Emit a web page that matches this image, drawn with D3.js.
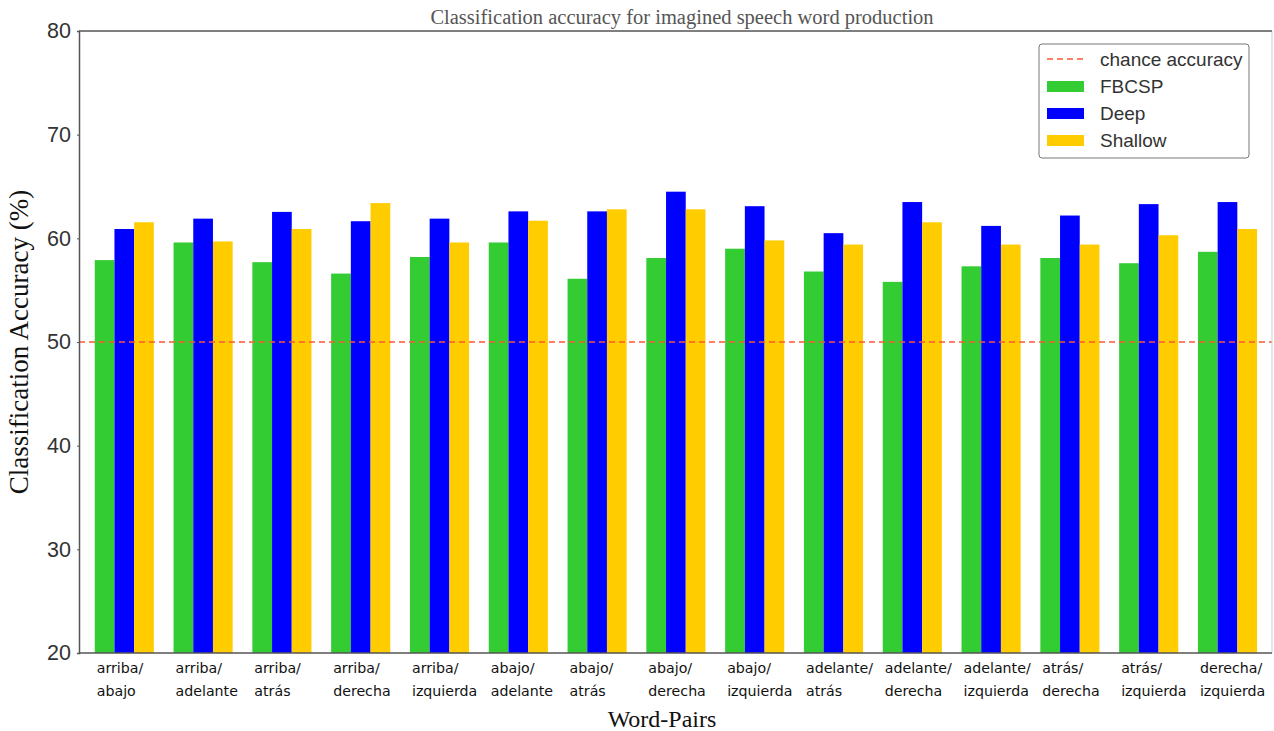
<!DOCTYPE html>
<html>
<head>
<meta charset="utf-8">
<script src="https://cdn.jsdelivr.net/npm/d3@7"></script>
<style>
body { margin: 0; background: #fff; }
</style>
</head>
<body>
<script>
// word pairs (two lines each)
var pairs = [
    ["arriba/", "abajo"], ["arriba/", "adelante"], ["arriba/", "atrás"], ["arriba/", "derecha"],
    ["arriba/", "izquierda"], ["abajo/", "adelante"], ["abajo/", "atrás"], ["abajo/", "derecha"],
    ["abajo/", "izquierda"], ["adelante/", "atrás"], ["adelante/", "derecha"], ["adelante/", "izquierda"],
    ["atrás/", "derecha"], ["atrás/", "izquierda"], ["derecha/", "izquierda"]
]
var series = ["FBCSP", "Deep", "Shallow"]
var fbcsp   = [57.9, 59.6, 57.7, 56.6, 58.2, 59.6, 56.1, 58.1, 59.0, 56.8, 55.8, 57.3, 58.1, 57.6, 58.7]
var deep    = [60.9, 61.9, 62.55, 61.65, 61.9, 62.6, 62.6, 64.5, 63.1, 60.5, 63.5, 61.2, 62.2, 63.3, 63.5]
var shallow = [61.55, 59.7, 60.9, 63.4, 59.6, 61.7, 62.8, 62.8, 59.8, 59.4, 61.55, 59.4, 59.4, 60.3, 60.9]
var chance = 50
var yTicks = [20, 30, 40, 50, 60, 70, 80]
var colors = ["#33cc33", "#0000ff", "#ffcc00"]

var W = 1274, H = 731
var margin = {top: 31, right: 2, bottom: 78, left: 79}
var width = W - margin.left - margin.right
var height = H - margin.top - margin.bottom

var svg = d3.select("body").append("svg").attr("width", W).attr("height", H)
var main = svg.append("g").attr("transform", "translate(" + margin.left + "," + margin.top + ")")

// scales
var x = d3.scaleLinear().domain([-0.2, pairs.length - 0.06]).range([0, width])
var y = d3.scaleLinear().domain([20, 80]).range([height, 0])
var bw = x(0.25) - x(0)

// bars
var all = [fbcsp, deep, shallow]
all.forEach(function(vals, s) {
    main.append("g").selectAll("rect").data(vals).enter().append("rect")
        .attr("x", function(d, i) { return x(i + s * 0.25) })
        .attr("y", function(d) { return y(d) })
        .attr("width", bw)
        .attr("height", function(d) { return height - y(d) })
        .attr("fill", colors[s])
})

// chance line
main.append("line")
    .attr("x1", 0).attr("x2", width)
    .attr("y1", y(chance)).attr("y2", y(chance))
    .attr("stroke", "#ff5533").attr("stroke-width", 1.6)
    .attr("stroke-dasharray", "6,4")

// frame
main.append("line").attr("x1", width).attr("x2", width).attr("y1", 0).attr("y2", height)
    .attr("stroke", "#cccccc").attr("stroke-width", 1)
main.append("line").attr("x1", 0).attr("x2", width).attr("y1", 0).attr("y2", 0)
    .attr("stroke", "#555").attr("stroke-width", 1.5)

// y axis
var yAxis = d3.axisLeft(y).tickValues(yTicks).tickSize(2).tickPadding(6)
var gy = main.append("g").call(yAxis)
gy.select(".domain").attr("stroke", "#555").attr("stroke-width", 1.5)
gy.selectAll(".tick line").attr("stroke", "#555")
gy.selectAll("text").attr("font-family", "Liberation Sans, Arial, sans-serif")
    .attr("font-size", 21.5).attr("fill", "#333")

// x axis
main.append("line").attr("x1", 0).attr("x2", width).attr("y1", height).attr("y2", height)
    .attr("stroke", "#555").attr("stroke-width", 1.5)
var xl = main.append("g").selectAll("text").data(pairs).enter().append("text")
    .attr("x", function(d, i) { return x(i) + 2 })
    .attr("y", height + 20)
    .attr("font-family", "DejaVu Sans, sans-serif")
    .attr("font-size", 14.2).attr("fill", "#111")
xl.each(function(d) {
    var t = d3.select(this)
    t.append("tspan").attr("x", t.attr("x")).text(d[0])
    t.append("tspan").attr("x", t.attr("x")).attr("dy", 23).text(d[1])
})

// labels
svg.append("text").attr("x", 682).attr("y", 24).attr("text-anchor", "middle")
    .attr("font-family", "Liberation Serif, Times New Roman, serif").attr("font-size", 20.5)
    .attr("fill", "#555").text("Classification accuracy for imagined speech word production")
svg.append("text").attr("x", 662).attr("y", 727).attr("text-anchor", "middle")
    .attr("font-family", "Liberation Serif, Times New Roman, serif").attr("font-size", 24)
    .attr("fill", "#111").text("Word-Pairs")
svg.append("text").attr("transform", "translate(28," + 342 + ") rotate(-90)")
    .attr("text-anchor", "middle")
    .attr("font-family", "Liberation Serif, Times New Roman, serif").attr("font-size", 27)
    .attr("fill", "#111").text("Classification Accuracy (%)")

// legend
var lg = svg.append("g").attr("transform", "translate(1039,44)")
lg.append("rect").attr("width", 210).attr("height", 114).attr("rx", 3)
    .attr("fill", "#fff").attr("stroke", "#777").attr("stroke-width", 1)
lg.append("line").attr("x1", 8).attr("x2", 45).attr("y1", 15).attr("y2", 15)
    .attr("stroke", "#ff5533").attr("stroke-width", 1.6).attr("stroke-dasharray", "6,4")
lg.append("text").attr("x", 61).attr("y", 22).attr("font-family", "Liberation Sans, Arial, sans-serif")
    .attr("font-size", 19).attr("fill", "#333").text("chance accuracy")
series.forEach(function(s, i) {
    lg.append("rect").attr("x", 8).attr("y", 37 + i * 27).attr("width", 37).attr("height", 11)
        .attr("fill", colors[i])
    lg.append("text").attr("x", 61).attr("y", 49 + i * 27).attr("font-family", "Liberation Sans, Arial, sans-serif")
        .attr("font-size", 19).attr("fill", "#333").text(s)
})
</script>
</body>
</html>
